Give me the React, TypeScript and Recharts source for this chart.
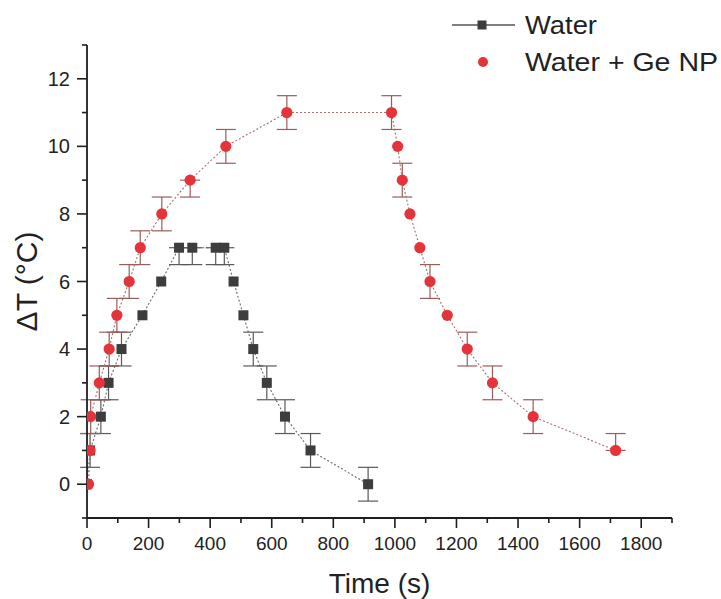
import React from 'react';
import { LineChart, Line, XAxis, YAxis, ErrorBar, Legend } from 'recharts';

const waterTime = [0, 10, 45, 70, 112, 180, 241, 299, 342, 418, 446, 476, 508, 540, 584, 643, 726, 913];
const waterDT = [0, 1, 2, 3, 4, 5, 6, 7, 7, 7, 7, 6, 5, 4, 3, 2, 1, 0];
const waterErrLow = [0, 0.5, 0.5, 0.5, 0.5, 0, 0, 0.5, 0.5, 0.5, 0.5, 0, 0, 0.5, 0.5, 0.5, 0.5, 0.5];
const waterErrHigh = [0, 0.5, 0.5, 0.5, 0.5, 0, 0, 0, 0, 0, 0, 0, 0, 0.5, 0.5, 0.5, 0.5, 0.5];

const geTime = [5, 10, 12, 40, 72, 97, 137, 173, 243, 335, 451, 649, 989, 1009, 1024, 1049, 1081, 1114, 1170, 1235, 1317, 1449, 1717];
const geDT = [0, 1, 2, 3, 4, 5, 6, 7, 8, 9, 10, 11, 11, 10, 9, 8, 7, 6, 5, 4, 3, 2, 1];
const geErrLow = [0, 0, 0.5, 0.5, 0.5, 0.5, 0.5, 0.5, 0.5, 0.5, 0.5, 0.5, 0.5, 0, 0.5, 0, 0, 0.5, 0, 0.5, 0.5, 0.5, 0];
const geErrHigh = [0, 0, 0.5, 0.5, 0.5, 0.5, 0.5, 0.5, 0.5, 0, 0.5, 0.5, 0.5, 0, 0.5, 0, 0, 0.5, 0, 0.5, 0.5, 0.5, 0.5];

const xTicks = [0, 100, 200, 300, 400, 500, 600, 700, 800, 900, 1000, 1100, 1200, 1300, 1400, 1500, 1600, 1700, 1800, 1900];
const xLabelTicks = [0, 200, 400, 600, 800, 1000, 1200, 1400, 1600, 1800];
const yTicks = [-1, 0, 1, 2, 3, 4, 5, 6, 7, 8, 9, 10, 11, 12, 13];
const yLabelTicks = [0, 2, 4, 6, 8, 10, 12];

const errPair = (lo: number, hi: number) => (lo === 0 && hi === 0 ? null : [lo, hi]);
const waterData = waterTime.map((t, i) => ({ t, v: waterDT[i], e: errPair(waterErrLow[i], waterErrHigh[i]) }));
const geData = geTime.map((t, i) => ({ t, v: geDT[i], e: errPair(geErrLow[i], geErrHigh[i]) }));

const FONT = 'Liberation Sans, Arial, sans-serif';
const AXIS = '#1e1e1e';
const RED = '#e5333a';
const DARK = '#3d3d3d';

const XTick = (props: any) => {
  const { x, y, payload } = props;
  const v = payload.value;
  const major = xLabelTicks.includes(v);
  return (
    <g>
      <line x1={x} y1={y} x2={x} y2={y + (major ? 10 : 5)} stroke={AXIS} strokeWidth={1.6} />
      {major && (
        <text x={x} y={y + 32} textAnchor="middle" fontSize={19} fontFamily={FONT} fill="#222">
          {v}
        </text>
      )}
    </g>
  );
};

const YTick = (props: any) => {
  const { x, y, payload } = props;
  const v = payload.value;
  const major = yLabelTicks.includes(v);
  return (
    <g>
      <line x1={x - (major ? 10 : 5)} y1={y} x2={x} y2={y} stroke={AXIS} strokeWidth={1.6} />
      {major && (
        <text x={x - 17} y={y + 7} textAnchor="end" fontSize={20} fontFamily={FONT} fill="#222">
          {v}
        </text>
      )}
    </g>
  );
};

const XLabel = (props: any) => {
  const vb = props.viewBox;
  return (
    <text x={vb.x + vb.width / 2} y={vb.y + 75} textAnchor="middle" fontSize={28} fontFamily={FONT} fill="#222">
      Time (s)
    </text>
  );
};

const YLabel = (props: any) => {
  const vb = props.viewBox;
  const cx = vb.x + 37;
  const cy = vb.y + vb.height / 2;
  return (
    <text x={cx} y={cy} transform={`rotate(-90 ${cx} ${cy})`} textAnchor="middle" fontSize={30} fontFamily={FONT} fill="#222">
      ΔT (°C)
    </text>
  );
};

const SquareDot = (p: any) => {
  if (p.cx == null || p.cy == null) return <g key={p.index} />;
  return <rect key={p.index} x={p.cx - 5} y={p.cy - 5} width={10} height={10} fill={DARK} />;
};

const CircleDot = (p: any) => {
  if (p.cx == null || p.cy == null) return <g key={p.index} />;
  return <circle key={p.index} cx={p.cx} cy={p.cy} r={5.6} fill={RED} />;
};

const LegendContent = () => (
  <svg width={281} height={80} style={{ display: 'block' }}>
    <line x1={12} y1={25} x2={75} y2={25} stroke="#555" strokeWidth={1.5} />
    <rect x={37.5} y={20.5} width={9} height={9} fill={DARK} />
    <text x={85} y={34} fontSize={26} fontFamily={FONT} fill="#222" textLength={72} lengthAdjust="spacingAndGlyphs">
      Water
    </text>
    <circle cx={43} cy={62} r={5} fill={RED} />
    <text x={85} y={71} fontSize={26} fontFamily={FONT} fill="#222" textLength={193} lengthAdjust="spacingAndGlyphs">
      Water + Ge NP
    </text>
  </svg>
);

export default function App() {
  return (
    <div style={{ position: 'absolute', left: 0, top: 0, width: 721, height: 599, background: '#fff' }}>
      <LineChart width={721} height={599} margin={{ top: 45, right: 49, bottom: 0, left: 0 }}>
        <XAxis
          type="number"
          dataKey="t"
          domain={[0, 1900]}
          ticks={xTicks}
          interval={0}
          height={81}
          tickSize={0}
          tickMargin={0}
          tick={<XTick />}
          axisLine={{ stroke: AXIS, strokeWidth: 1.8 }}
          allowDataOverflow
          label={<XLabel />}
        />
        <YAxis
          type="number"
          domain={[-1, 13]}
          ticks={yTicks}
          interval={0}
          width={87}
          tickSize={0}
          tickMargin={0}
          tick={<YTick />}
          axisLine={{ stroke: AXIS, strokeWidth: 1.8 }}
          allowDataOverflow
          label={<YLabel />}
        />
        <Legend
          layout="vertical"
          align="center"
          verticalAlign="middle"
          content={<LegendContent />}
          wrapperStyle={{ position: 'absolute', left: 440, top: 0, width: 281, height: 80 }}
        />
        <Line
          name="Water"
          data={waterData}
          dataKey="v"
          stroke="#6a6a6a"
          strokeWidth={1.1}
          strokeDasharray="2 2"
          dot={SquareDot}
          activeDot={false}
          isAnimationActive={false}
        >
          <ErrorBar dataKey="e" direction="y" width={10} stroke="#5a5a5a" strokeWidth={1.2} />
        </Line>
        <Line
          name="Water + Ge NP"
          data={geData}
          dataKey="v"
          stroke="#a87070"
          strokeWidth={1.1}
          strokeDasharray="2 2"
          dot={CircleDot}
          activeDot={false}
          isAnimationActive={false}
        >
          <ErrorBar dataKey="e" direction="y" width={10} stroke="#9a5c5c" strokeWidth={1.2} />
        </Line>
      </LineChart>
    </div>
  );
}
